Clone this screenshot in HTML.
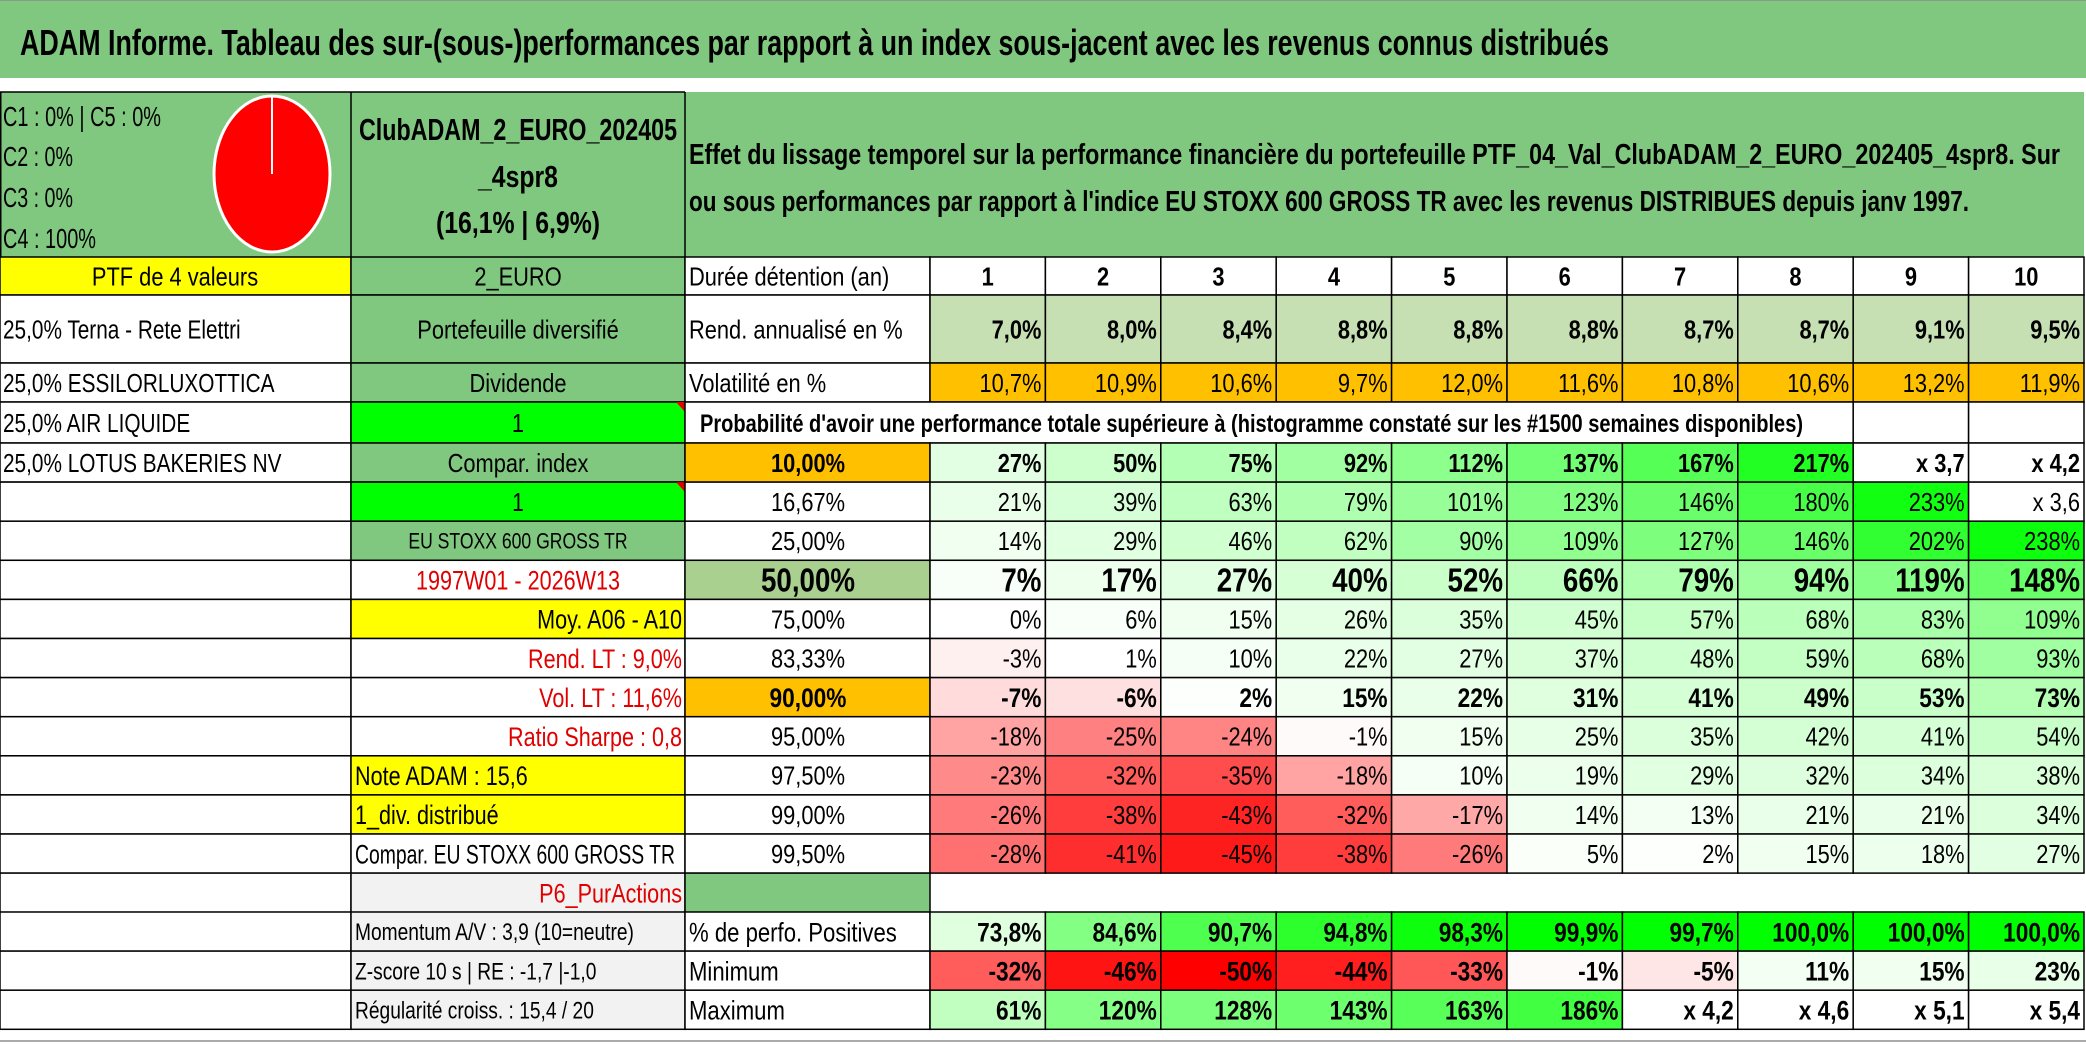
<!DOCTYPE html>
<html><head><meta charset="utf-8"><style>
html,body{margin:0;padding:0;background:#fff;}
svg{display:block;font-family:"Liberation Sans",sans-serif;}
</style></head><body>
<svg id="sheet" width="2086" height="1044" viewBox="0 0 2086 1044" xmlns="http://www.w3.org/2000/svg">
<rect x="0" y="0" width="2086" height="1044" fill="#fff"/>
<rect x="0" y="0" width="2086" height="78" fill="#80c880"/>
<line x1="0" y1="0.5" x2="2086" y2="0.5" stroke="#8a9a8a" stroke-width="1"/>
<text x="20" y="55" font-size="36" font-weight="bold" textLength="1589" lengthAdjust="spacingAndGlyphs">ADAM Informe. Tableau des sur-(sous-)performances par rapport à un index sous-jacent avec les revenus connus distribués</text>
<rect x="0" y="92" width="2084" height="165" fill="#80c880"/>
<line x1="0" y1="92" x2="685" y2="92" stroke="#000" stroke-width="1.5"/>
<line x1="351" y1="92" x2="351" y2="1029" stroke="#000" stroke-width="1.5"/>
<line x1="685" y1="92" x2="685" y2="1029" stroke="#000" stroke-width="1.5"/>
<line x1="0.75" y1="92" x2="0.75" y2="1029" stroke="#000" stroke-width="1.5"/>
<text x="3" y="126" font-size="28" textLength="158" lengthAdjust="spacingAndGlyphs">C1 : 0% | C5 : 0%</text>
<text x="3" y="166" font-size="28" textLength="70" lengthAdjust="spacingAndGlyphs">C2 : 0%</text>
<text x="3" y="207" font-size="28" textLength="70" lengthAdjust="spacingAndGlyphs">C3 : 0%</text>
<text x="3" y="248" font-size="28" textLength="93" lengthAdjust="spacingAndGlyphs">C4 : 100%</text>
<ellipse cx="272" cy="174" rx="58" ry="78" fill="#ff0000" stroke="#fff" stroke-width="3"/>
<line x1="272" y1="174" x2="272" y2="97" stroke="#fff" stroke-width="2"/>
<text x="518" y="140" font-size="31" font-weight="bold" text-anchor="middle" textLength="318" lengthAdjust="spacingAndGlyphs">ClubADAM_2_EURO_202405</text>
<text transform="translate(518,187) scale(0.8,1)" font-size="31" font-weight="bold" text-anchor="middle">_4spr8</text>
<text transform="translate(518,233) scale(0.8,1)" font-size="31" font-weight="bold" text-anchor="middle">(16,1% | 6,9%)</text>
<text x="689" y="164" font-size="29" font-weight="bold" textLength="1371" lengthAdjust="spacingAndGlyphs">Effet du lissage temporel sur la performance financière du portefeuille PTF_04_Val_ClubADAM_2_EURO_202405_4spr8. Sur</text>
<text x="689" y="211" font-size="29" font-weight="bold" textLength="1280" lengthAdjust="spacingAndGlyphs">ou sous performances par rapport à l'indice EU STOXX 600 GROSS TR avec les revenus DISTRIBUES depuis janv 1997.</text>
<g id="cells"></g>
<line x1="0" y1="1041" x2="2086" y2="1041" stroke="#aaa" stroke-width="2"/>
</svg>
<script>
// ---- data ----
const years = [1,2,3,4,5,6,7,8,9,10];
const rendAnnualise = [7.0,8.0,8.4,8.8,8.8,8.8,8.7,8.7,9.1,9.5];
const volatilite = [10.7,10.9,10.6,9.7,12.0,11.6,10.8,10.6,13.2,11.9];
const quantileLabels = ["10,00%","16,67%","25,00%","50,00%","75,00%","83,33%","90,00%","95,00%","97,50%","99,00%","99,50%"];
const q10 = [27,50,75,92,112,137,167,217,270,320];
const q1667 = [21,39,63,79,101,123,146,180,233,260];
const q25 = [14,29,46,62,90,109,127,146,202,238];
const q50 = [7,17,27,40,52,66,79,94,119,148];
const q75 = [0,6,15,26,35,45,57,68,83,109];
const q8333 = [-3,1,10,22,27,37,48,59,68,93];
const q90 = [-7,-6,2,15,22,31,41,49,53,73];
const q95 = [-18,-25,-24,-1,15,25,35,42,41,54];
const q975 = [-23,-32,-35,-18,10,19,29,32,34,38];
const q99 = [-26,-38,-43,-32,-17,14,13,21,21,34];
const q995 = [-28,-41,-45,-38,-26,5,2,15,18,27];
const perfPositives = [73.8,84.6,90.7,94.8,98.3,99.9,99.7,100,100,100];
const minimum = [-32,-46,-50,-44,-33,-1,-5,11,15,23];
const maximum = [61,120,128,143,163,186,320,360,410,440];

const quantileRows = [q10,q1667,q25,q50,q75,q8333,q90,q95,q975,q99,q995];

// ---- layout ----
const SVGNS = "http://www.w3.org/2000/svg";
const g = document.getElementById('cells');
const X0 = 930, CW = 115.4;
function xCol(i){ return X0 + i*CW; }
const HY0 = 443, RH = 39.1;
function yQ(k){ return HY0 + k*RH; }
const K = 0.84;

function mk(tag, attrs){
  const el = document.createElementNS(SVGNS, tag);
  for (const a in attrs) el.setAttribute(a, attrs[a]);
  g.appendChild(el);
  return el;
}
function cell(x,y,w,h,fill,name,noStroke){
  const r = mk('rect',{x:x,y:y,width:w,height:h,fill:fill,stroke:noStroke?'none':'#000','stroke-width':1.5});
  
  
  return r;
}
function txt(x,y,s,opt){
  opt = opt||{};
  const t = mk('text',{transform:'translate('+x+','+y+') scale('+(opt.k||K)+',1)','font-size':opt.size||26,'text-anchor':opt.anchor||'start',fill:opt.color||'#000','font-weight':opt.bold?'bold':'normal'});
  t.textContent = s;
  
  
  return t;
}
function fmtDec(v,d){ return v.toFixed(d).replace('.',',') + '%'; }
function fmtHeat(v){
  if (v >= 250) return 'x ' + ((100+v)/100).toFixed(1).replace('.',',');
  return v + '%';
}
function mix(t,r,g2,b){
  t = Math.max(0,Math.min(1,t));
  const c = (a)=>Math.round(255+(a-255)*t);
  return 'rgb('+c(r)+','+c(g2)+','+c(b)+')';
}
function heatColor(v){
  if (v >= 250) return '#ffffff';
  if (v < 0) return mix(-v/50,255,0,0);
  return mix(v/250,0,255,0);
}
function rowBase(y,h,size){ return y + h/2 + (size||26)*0.36; }

// Row: PTF header
cell(0,257,351,38,'#ffff00','ptf-header-cell');
txt(175,rowBase(257,38),'PTF de 4 valeurs',{anchor:'middle',name:'ptf-header'});
cell(351,257,334,38,'#80c880','currency-cell');
txt(518,rowBase(257,38),'2_EURO',{anchor:'middle',name:'currency-label'});
cell(685,257,245,38,'#fff','duration-label-cell');
txt(689,rowBase(257,38),'Durée détention (an)',{name:'duration-label'});
years.forEach((yv,i)=>{
  cell(xCol(i),257,CW,38,'#fff','year-header-cell');
  txt(xCol(i)+CW/2,rowBase(257,38),String(yv),{anchor:'middle',bold:true,name:'year-header'});
});

// holdings rows
const holdings = ["25,0% Terna - Rete Elettri","25,0% ESSILORLUXOTTICA","25,0% AIR LIQUIDE","25,0% LOTUS BAKERIES NV"];
const holdY = [[295,68],[363,39],[402,41],[443,39]];
holdings.forEach((h,i)=>{
  cell(0,holdY[i][0],351,holdY[i][1],'#fff','holding-cell');
  txt(3,rowBase(holdY[i][0],holdY[i][1]),h,{name:'holding-label',k:0.8});
});

cell(351,295,334,68,'#80c880','strategy-cell');
txt(518,rowBase(295,68),'Portefeuille diversifié',{anchor:'middle',name:'strategy-label'});
cell(351,363,334,39,'#80c880','dividend-cell');
txt(518,rowBase(363,39),'Dividende',{anchor:'middle',name:'dividend-label'});
cell(351,402,334,41,'#00ff00','flag-cell-1');
txt(518,rowBase(402,41),'1',{anchor:'middle',name:'flag-value-1'});
const tri1 = mk('polygon',{points:'676,402 685,402 685,412',fill:'#e00000'});


cell(351,443,334,39,'#80c880','compare-index-cell');
txt(518,rowBase(443,39),'Compar. index',{anchor:'middle',name:'compare-index-label'});

cell(685,295,245,68,'#fff','rend-label-cell');
txt(689,rowBase(295,68),'Rend. annualisé en %',{name:'rend-label'});
rendAnnualise.forEach((v,i)=>{
  cell(xCol(i),295,CW,68,'#c6e0b4','rend-cell');
  txt(xCol(i)+CW-4,rowBase(295,68),fmtDec(v,1),{anchor:'end',bold:true,name:'rend-value'});
});
cell(685,363,245,39,'#fff','vol-label-cell');
txt(689,rowBase(363,39),'Volatilité en %',{name:'vol-label'});
volatilite.forEach((v,i)=>{
  cell(xCol(i),363,CW,39,'#ffc000','vol-cell');
  txt(xCol(i)+CW-4,rowBase(363,39),fmtDec(v,1),{anchor:'end',name:'vol-value'});
});
cell(685,402,xCol(8)-685,41,'#fff','probability-header-cell');
const ph = mk('text',{x:700,y:rowBase(402,41),'font-size':25,'font-weight':'bold',textLength:1103,lengthAdjust:'spacingAndGlyphs'});
ph.textContent = "Probabilité d'avoir une performance totale supérieure à (histogramme constaté sur les #1500 semaines disponibles)";


cell(xCol(8),402,CW,41,'#fff','blank-cell');
cell(xCol(9),402,CW,41,'#fff','blank-cell');

const bLabels = [
  {t:'1',bg:'#00ff00',a:'middle',c:'#000',s:26},
  {t:'EU STOXX 600 GROSS TR',bg:'#80c880',a:'middle',c:'#000',s:22},
  {t:'1997W01 - 2026W13',bg:'#fff',a:'middle',c:'#e00000',s:27},
  {t:'Moy. A06 - A10',bg:'#ffff00',a:'end',c:'#000',s:27},
  {t:'Rend. LT : 9,0%',bg:'#fff',a:'end',c:'#e00000',s:27},
  {t:'Vol. LT : 11,6%',bg:'#fff',a:'end',c:'#e00000',s:27},
  {t:'Ratio Sharpe : 0,8',bg:'#fff',a:'end',c:'#e00000',s:27},
  {t:'Note ADAM : 15,6',bg:'#ffff00',a:'start',c:'#000',s:27},
  {t:'1_div. distribué',bg:'#ffff00',a:'start',c:'#000',s:27},
  {t:'Compar. EU STOXX 600 GROSS TR',bg:'#fff',a:'start',c:'#000',s:27}
];
bLabels.forEach((b,j)=>{
  const k = j+1; const y = yQ(k);
  cell(0,y,351,RH,'#fff','left-blank-cell');
  cell(351,y,334,RH,b.bg,'side-info-cell');
  const x = b.a==='middle'?518:(b.a==='end'?682:355);
  if (j===9){
    const t = mk('text',{x:355,y:rowBase(y,RH,b.s),'font-size':b.s,textLength:320,lengthAdjust:'spacingAndGlyphs'});
    t.textContent = b.t;
    
    
  } else {
    txt(x,rowBase(y,RH,b.s),b.t,{anchor:b.a,color:b.c,size:b.s,name:'side-info-label',k:0.8});
  }
});
const tri2 = mk('polygon',{points:'676,'+yQ(1)+' 685,'+yQ(1)+' 685,'+(yQ(1)+10),fill:'#e00000'});



const boldRows = {0:26,3:33,6:27};
quantileRows.forEach((row,k)=>{
  const y = yQ(k);
  let qbg = '#fff';
  if (k===0||k===6) qbg = '#ffc000';
  if (k===3) qbg = '#a9d08e';
  cell(685,y,245,RH,qbg,'quantile-cell');
  const sz = boldRows[k]||26;
  txt(808,rowBase(y,RH,sz),quantileLabels[k],{anchor:'middle',bold:k in boldRows,size:sz,name:'quantile-label'});
  row.forEach((v,i)=>{
    cell(xCol(i),y,CW,RH,heatColor(v),'heat-cell');
    txt(xCol(i)+CW-4,rowBase(y,RH,sz),fmtHeat(v),{anchor:'end',bold:k in boldRows,size:sz,name:'heat-value'});
  });
});

const yP6 = yQ(11);
cell(0,yP6,351,RH,'#fff','left-blank-cell');
cell(351,yP6,334,RH,'#f2f2f2','profile-cell');
txt(682,rowBase(yP6,RH,27),'P6_PurActions',{anchor:'end',color:'#e00000',size:27,name:'profile-label',k:0.8});
cell(685,yP6,245,RH,'#80c880','profile-color-cell');

const statNames = ['Momentum A/V : 3,9 (10=neutre)','Z-score 10 s | RE : -1,7 |-1,0','Régularité croiss. : 15,4 / 20'];
const statLabels = ['% de perfo. Positives','Minimum','Maximum'];
const statRows = [perfPositives, minimum, maximum];
statRows.forEach((row,j)=>{
  const y = 912 + j*RH;
  cell(0,y,351,RH,'#fff','left-blank-cell');
  cell(351,y,334,RH,'#f2f2f2','stat-info-cell');
  txt(355,rowBase(y,RH,24),statNames[j],{size:24,name:'stat-info-label',k:0.8});
  cell(685,y,245,RH,'#fff','stat-label-cell');
  txt(689,rowBase(y,RH,27),statLabels[j],{size:27,name:'stat-label',k:0.82});
  row.forEach((v,i)=>{
    let bg, s;
    if (j===0){ bg = mix((v-70)/30,0,255,0); s = fmtDec(v,1); }
    else { bg = heatColor(v); s = fmtHeat(v); }
    cell(xCol(i),y,CW,RH,bg,'stat-cell');
    txt(xCol(i)+CW-4,rowBase(y,RH,27),s,{anchor:'end',bold:true,size:27,name:'stat-value'});
  });
});
</script>
</body></html>
